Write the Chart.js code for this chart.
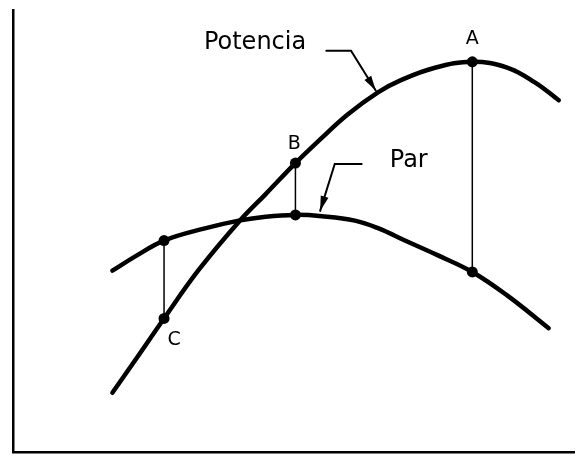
<!DOCTYPE html>
<html>
<head>
<meta charset="utf-8">
<script src="https://cdn.jsdelivr.net/npm/chart.js@4.4.0/dist/chart.umd.min.js"></script>
<style>
  html, body { margin: 0; padding: 0; background: #ffffff; }
  #wrap { width: 580px; height: 458px; position: relative; }
</style>
</head>
<body>
<div id="wrap"><canvas id="c"></canvas></div>
<script>
// Régimen (x) — abstract units 0..100
const potenciaX = [17.7, 22.0, 26.9, 33.1, 40.2, 45.0, 50.3, 54.9, 59.6, 65.0, 69.0, 75.0, 81.8, 88.0, 93.0, 97.2];
const potenciaY = [13.5, 21.3, 30.3, 41.3, 52.1, 58.4, 65.4, 71.0, 76.4, 81.4, 84.1, 86.9, 88.3, 87.0, 83.6, 79.6];
const parX = [17.7, 22.0, 26.9, 34.0, 40.2, 45.0, 50.3, 55.0, 60.9, 65.0, 70.0, 75.6, 81.8, 88.0, 95.4];
const parY = [41.1, 44.5, 47.9, 50.6, 52.4, 53.3, 53.7, 53.4, 52.4, 50.7, 47.8, 44.6, 40.8, 35.5, 28.1];
// Marked points: C, B, A
const markLabels = ['C', 'B', 'A'];
const markX = [26.9, 50.3, 81.8];
const markPotencia = [30.3, 65.4, 88.3];
const markPar = [47.9, 53.7, 40.8];

const toPts = (xs, ys) => xs.map((x, i) => ({ x: x, y: ys[i] }));

const curveStyle = {
  borderColor: '#000', borderWidth: 4.5, pointRadius: 0,
  tension: 0.4, borderCapStyle: 'round', borderJoinStyle: 'round', showLine: true
};
const datasets = [
  Object.assign({ label: 'Potencia', data: toPts(potenciaX, potenciaY) }, curveStyle),
  Object.assign({ label: 'Par', data: toPts(parX, parY) }, curveStyle)
];
markX.forEach((x, i) => {
  datasets.push({
    label: 'tramo ' + markLabels[i],
    data: [{ x: x, y: markPar[i] }, { x: x, y: markPotencia[i] }],
    borderColor: '#000', borderWidth: 1.5, showLine: true, tension: 0,
    pointRadius: 5.5, pointBackgroundColor: '#000', pointBorderColor: '#000', pointBorderWidth: 0
  });
});

const annot = {
  id: 'annot',
  afterDatasetsDraw(chart) {
    const { ctx, scales: { x, y } } = chart;
    const px = v => x.getPixelForValue(v), py = v => y.getPixelForValue(v);
    ctx.save();
    ctx.fillStyle = '#000';
    ctx.strokeStyle = '#000';
    ctx.font = '24px "DejaVu Sans"';
    ctx.textBaseline = 'middle';
    ctx.textAlign = 'left';
    ctx.fillText('Potencia', px(34.0), py(92.6));
    ctx.fillText('Par', px(67.1), py(66.0));
    ctx.textAlign = 'center';
    ctx.font = '19px "DejaVu Sans"';
    const lblPos = [[28.7, 25.4], [50.1, 69.8], [81.8, 93.5]];
    markLabels.forEach((t, i) => ctx.fillText(t, px(lblPos[i][0]), py(lblPos[i][1])));

    function arrow(pts) {
      ctx.lineWidth = 2;
      ctx.lineCap = 'round';
      ctx.beginPath();
      pts.forEach((p, i) => {
        const X = px(p[0]), Y = py(p[1]);
        if (i === 0) ctx.moveTo(X, Y); else ctx.lineTo(X, Y);
      });
      ctx.stroke();
      const a = pts[pts.length - 2], b = pts[pts.length - 1];
      const ax = px(a[0]), ay = py(a[1]), bx = px(b[0]), by = py(b[1]);
      const ang = Math.atan2(by - ay, bx - ax);
      const L = 15, W = 4;
      ctx.beginPath();
      ctx.moveTo(bx, by);
      ctx.lineTo(bx - L * Math.cos(ang) + W * Math.sin(ang), by - L * Math.sin(ang) - W * Math.cos(ang));
      ctx.lineTo(bx - L * Math.cos(ang) - W * Math.sin(ang), by - L * Math.sin(ang) + W * Math.cos(ang));
      ctx.closePath();
      ctx.fill();
    }
    arrow([[55.8, 90.8], [60.2, 90.8], [64.6, 81.8]]);
    arrow([[62.1, 65.2], [57.3, 65.2], [54.7, 54.6]]);
    ctx.restore();
  }
};

new Chart(document.getElementById('c'), {
  type: 'scatter',
  data: { datasets: datasets },
  plugins: [annot],
  options: {
    responsive: true,
    maintainAspectRatio: false,
    animation: false,
    layout: { padding: { left: 13, top: 10, right: 2, bottom: 3 } },
    plugins: { legend: { display: false }, tooltip: { enabled: false } },
    scales: {
      x: {
        type: 'linear', min: 0, max: 100,
        ticks: { display: false },
        grid: { display: false, drawTicks: false },
        border: { display: true, color: '#000', width: 2.5 },
        afterFit(s) { s.height = 0; }
      },
      y: {
        type: 'linear', min: 0, max: 100,
        ticks: { display: false },
        grid: { display: false, drawTicks: false },
        border: { display: true, color: '#000', width: 2.5 },
        afterFit(s) { s.width = 0; }
      }
    }
  }
});
</script>
</body>
</html>
